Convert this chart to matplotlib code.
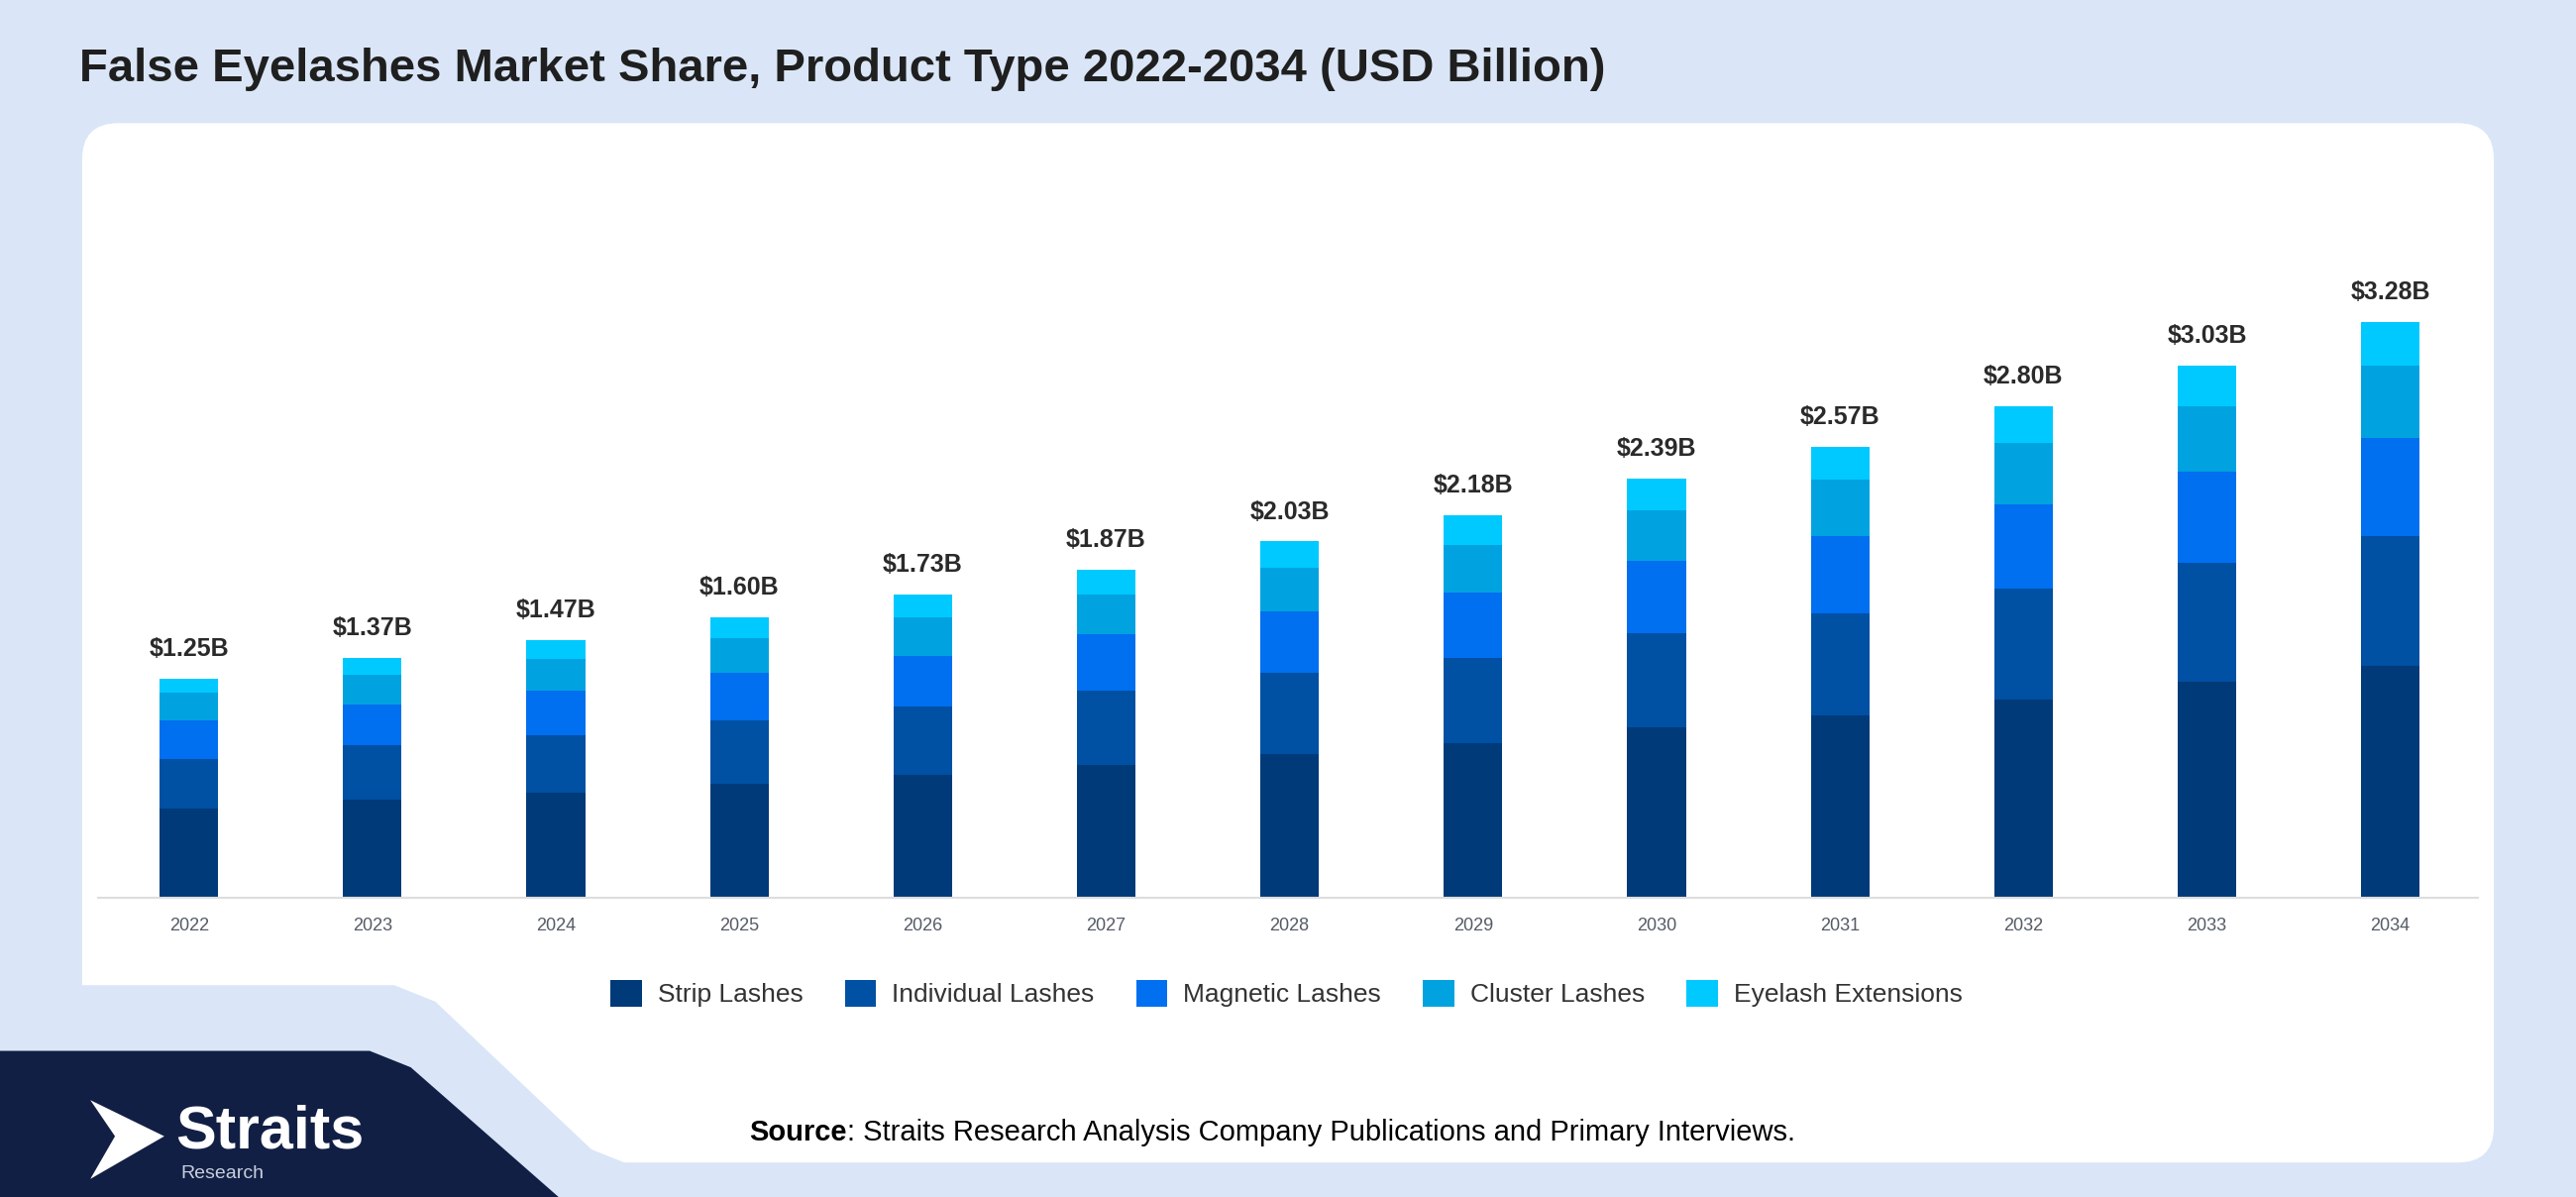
import numpy as np
import matplotlib.pyplot as plt
from matplotlib.patches import FancyBboxPatch, Polygon

plt.rcParams['font.family'] = ['Liberation Sans', 'DejaVu Sans']

years = ['2022', '2023', '2024', '2025', '2026', '2027', '2028', '2029', '2030', '2031', '2032', '2033', '2034']
totals = [1.25, 1.37, 1.47, 1.60, 1.73, 1.87, 2.03, 2.18, 2.39, 2.57, 2.80, 3.03, 3.28]
strip = [0.51, 0.56, 0.60, 0.65, 0.70, 0.76, 0.82, 0.88, 0.97, 1.04, 1.13, 1.23, 1.32]
individual = [0.28, 0.31, 0.33, 0.36, 0.39, 0.42, 0.46, 0.49, 0.54, 0.58, 0.63, 0.68, 0.74]
magnetic = [0.22, 0.23, 0.25, 0.27, 0.29, 0.32, 0.35, 0.37, 0.41, 0.44, 0.48, 0.52, 0.56]
cluster = [0.16, 0.17, 0.18, 0.20, 0.22, 0.23, 0.25, 0.27, 0.29, 0.32, 0.35, 0.37, 0.41]
extensions = [0.08, 0.10, 0.11, 0.12, 0.13, 0.14, 0.15, 0.17, 0.18, 0.19, 0.21, 0.23, 0.25]

series = [('Strip Lashes', strip, '#003a78'),
          ('Individual Lashes', individual, '#0050a3'),
          ('Magnetic Lashes', magnetic, '#006ff0'),
          ('Cluster Lashes', cluster, '#00a3e0'),
          ('Eyelash Extensions', extensions, '#00c9ff')]

W, H = 1568, 729  # reference layout units
fig = plt.figure(figsize=(26, 12.08), dpi=100)
fig.patch.set_facecolor('#dae6f7')

bg = fig.add_axes([0, 0, 1, 1])
bg.set_xlim(0, W)
bg.set_ylim(H, 0)
bg.axis('off')

# white panel
bg.add_patch(FancyBboxPatch((50, 75), 1468, 633, boxstyle='round,pad=0,rounding_size=22',
                            fc='white', ec='none'))
# light notch bottom-left
bg.add_patch(Polygon([(0, 600), (240, 600), (265, 610), (360, 700), (390, 712), (390, H), (0, H)],
                     closed=True, fc='#dae6f7', ec='none'))
# dark logo block
bg.add_patch(Polygon([(0, 640), (225, 640), (250, 650), (340, 729), (0, 729)],
                     closed=True, fc='#121f45', ec='none'))
bg.add_patch(Polygon([(55, 670), (100, 692), (55, 718), (70, 692)], closed=True, fc='white', ec='none'))
bg.text(107, 690, 'Straits', color='white', fontsize=44, fontweight='bold', va='center', ha='left')
bg.text(110, 715, 'Research', color='#c8cfdd', fontsize=14, va='center', ha='left')

bg.text(48, 42, 'False Eyelashes Market Share, Product Type 2022-2034 (USD Billion)',
        fontsize=34, fontweight='bold', color='#1f1f1f', va='center', ha='left')
src = bg.text(456, 690, 'Source', fontsize=21, fontweight='bold', color='black', va='center', ha='left')
fig.canvas.draw()
bb = src.get_window_extent()
x_end = bg.transData.inverted().transform((bb.x1, bb.y0))[0]
bg.text(x_end, 690, ': Straits Research Analysis Company Publications and Primary Interviews.',
        fontsize=21, color='black', va='center', ha='left')

# chart axes
ax = fig.add_axes([60 / W, 1 - 547 / H, 1448 / W, (547 - 150) / H])
x = np.arange(len(years))
bottom = np.zeros(len(years))
for name, vals, col in series:
    ax.bar(x, vals, 0.32, bottom=bottom, color=col, label=name)
    bottom += np.array(vals)
for xi, t in zip(x, totals):
    ax.text(xi, t + 0.1, f'${t:.2f}B', ha='center', va='bottom', fontsize=18,
            fontweight='bold', color='#2a2a2a')
ax.set_xlim(-0.4926, -0.4926 + 12.967)
ax.set_ylim(0, (547 - 150) / 107)
ax.set_xticks(x)
ax.set_xticklabels(years, fontsize=13, color='#555b66')
ax.tick_params(axis='x', length=0, pad=14)
ax.set_yticks([])
for s in ['top', 'right', 'left']:
    ax.spines[s].set_visible(False)
ax.spines['bottom'].set_color('#dddddd')
ax.spines['bottom'].set_linewidth(1.5)
ax.set_facecolor('none')

handles, labels = ax.get_legend_handles_labels()
fig.legend(handles, labels, loc='center', bbox_to_anchor=(783 / W, 1 - 605 / H), ncol=5,
           frameon=False, fontsize=19, handlelength=1.2, handleheight=1.2,
           columnspacing=1.6, handletextpad=0.6, labelcolor='#333333')

fig.savefig('out.png', dpi=100, facecolor=fig.get_facecolor())
